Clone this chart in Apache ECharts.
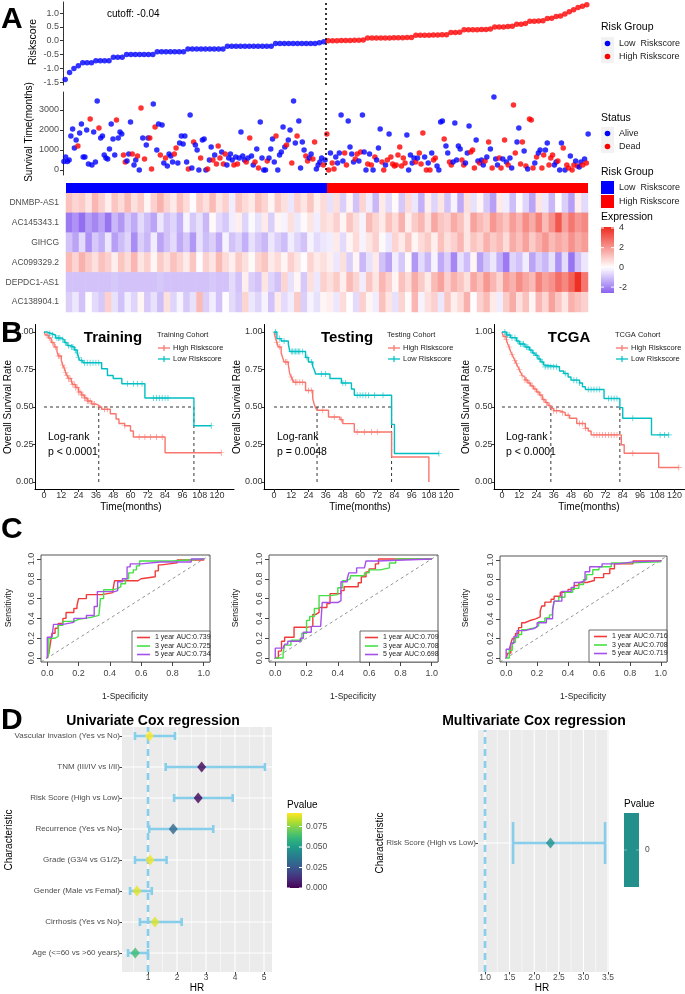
<!DOCTYPE html>
<html><head><meta charset="utf-8">
<script src="https://cdn.jsdelivr.net/npm/echarts@6.0.0/dist/echarts.min.js"></script>
<style>html,body{margin:0;padding:0;background:#fff}#c{width:685px;height:994px}</style>
</head><body><div id="c"></div>
<script>
// ---------------- DATA ----------------
const riskLow = [-1.40,-1.15,-1.00,-0.90,-0.80,-0.80,-0.80,-0.72,-0.72,-0.72,
  -0.72,-0.60,-0.60,-0.60,-0.50,-0.50,-0.50,-0.50,-0.50,-0.50,
  -0.50,-0.40,-0.40,-0.40,-0.40,-0.40,-0.40,-0.40,-0.30,-0.30,
  -0.30,-0.30,-0.30,-0.30,-0.30,-0.30,-0.30,-0.20,-0.20,-0.20,
  -0.20,-0.20,-0.20,-0.20,-0.20,-0.20,-0.20,-0.20,-0.10,-0.10,
  -0.10,-0.10,-0.10,-0.10,-0.10,-0.10,-0.10,-0.10,-0.07,-0.04];
const riskHigh = [0.00,0.00,0.00,0.01,0.01,0.01,0.02,0.02,0.03,0.10,
  0.10,0.10,0.10,0.10,0.10,0.11,0.11,0.11,0.12,0.12,
  0.20,0.20,0.20,0.20,0.21,0.21,0.22,0.22,0.30,0.30,
  0.31,0.40,0.40,0.40,0.40,0.41,0.41,0.42,0.50,0.50,
  0.50,0.51,0.52,0.60,0.60,0.62,0.70,0.70,0.71,0.72,
  0.80,0.81,0.88,0.89,0.97,1.05,1.12,1.20,1.25,1.30];
const cutoffText = 'cutoff: -0.04';

const survLow = [420,650,420,500,1700,2050,1100,1500,1200,1850,
  2300,650,650,2000,300,2550,250,1900,400,3450,
  2100,1600,1700,750,600,550,1050,2300,1550,750,
  2500,1600,1900,1800,750,400,450,800,2400,800,
  250,500,700,0,3100,1600,550,1250,1600,1600,
  50,3300,2150,1000,2300,750,2250,350,600,200,
  800,700,400,800,1100,350,1350,1700,1300,1700,
  400,50,2750,100,1400,1250,1000,0,600,1500,
  1550,0,50,500,1150,500,750,300,1200,600,
  900,300,800,250,600,800,500,250,650,300,
  600,1900,700,500,400,600,1600,700,250,400,
  1050,100,2400,600,0,0,450,600,1050,1550,
  400,1700,0,750,900,2150,1150,1250,1500,2000,
  350,3450,1350,1700,2450,100,1400,1000,700,450,
  600,800,550,1400,50,250,400,600,250,500];
const deadLow = [0,0,0,0,0,0,0,0,1,0,
  0,0,0,0,0,1,0,0,0,0,
  1,0,0,0,0,0,0,0,0,0,
  1,0,0,0,1,1,0,0,0,1,
  0,0,1,0,1,0,1,0,0,1,
  1,0,1,0,0,1,0,0,1,0,
  0,0,0,1,1,0,0,0,0,0,
  0,1,0,0,1,0,0,0,1,0,
  0,0,1,0,0,1,0,1,1,1,
  0,1,1,0,0,0,0,1,0,1,
  0,0,0,0,1,0,1,0,0,1,
  0,1,0,0,0,0,1,0,0,0,
  0,1,0,0,0,0,0,1,0,0,
  1,0,0,1,0,0,0,0,1,1,
  0,0,1,1,0,0,0,0,1,0];
const survHigh = [1800,0,850,350,50,650,350,850,2750,450,
  850,250,2450,1150,800,400,550,800,450,900,
  2750,900,0,300,800,250,0,650,500,1100,
  2050,400,0,250,500,1800,650,300,200,250,
  750,1150,200,600,350,1750,0,750,350,600,
  400,600,850,300,1850,650,0,350,0,850,
  500,600,200,0,2400,2450,1550,1200,850,400,
  250,400,2350,500,1200,1050,500,250,350,850,
  2200,900,1000,100,1500,450,350,500,250,450,
  650,1400,1050,100,3650,550,250,600,100,550,
  1500,400,250,600,100,3250,850,1400,2100,300,
  1400,950,200,50,2550,2500,100,350,650,850,
  1000,100,750,1000,1350,250,600,750,250,400,
  450,0,1350,1100,0,250,100,700,0,250,
  450,200,150,400,250,550,350,1800];
const deadHigh = [1,1,0,1,1,0,0,0,0,0,
  1,1,0,0,0,0,1,1,0,1,
  0,0,0,1,0,1,0,1,0,0,
  0,1,1,0,1,0,1,1,1,1,
  1,1,1,1,1,0,0,0,0,0,
  1,0,1,1,1,0,1,0,1,0,
  1,1,0,0,0,0,1,0,0,1,
  1,0,0,0,0,0,1,1,0,0,
  0,1,1,1,0,0,1,0,0,1,
  0,1,0,1,0,0,0,1,1,0,
  1,0,1,0,0,1,1,0,0,1,
  1,0,1,0,1,1,1,0,1,0,
  0,1,1,0,0,1,1,1,0,0,
  1,0,0,1,0,1,1,0,1,1,
  0,1,0,0,1,0,1,0];

const riskGroups = ['Low  Riskscore', 'High Riskscore'];
const statusNames = ['Alive', 'Dead'];

const genes = ['DNMBP-AS1','AC145343.1','GIHCG','AC099329.2','DEPDC1-AS1','AC138904.1'];
const exprLow = [
 [1.2,0.8,1.0,0.5,1.4,0.9,0.3,1.1,0.7,1.3, 0.6,1.0,0.2,0.9,1.5,0.8,0.4,1.2,0.7,0.0, 1.0,0.6,1.3,0.5,0.9,-0.3,1.1,0.7,0.4,1.2, 0.8,0.2,1.0,0.6,-0.4,0.9,0.5,1.1,0.3,0.7],
 [-2.2,-1.8,-2.4,-1.6,-2.0,-1.5,-2.3,-1.2,-1.7,-0.9, -1.4,-0.6,-1.1,-1.5,-0.4,-1.0,-0.7,-1.3,-0.2,-0.9, -0.5,-1.2,0.1,-0.6,-0.9,-0.3,0.3,-0.7,-0.1,-0.5, 0.4,-0.8,0.2,-0.2,0.6,-0.4,0.1,0.5,-0.3,0.7],
 [-1.0,-1.5,-0.6,-1.8,-0.9,-1.3,-0.4,-1.6,-1.1,-0.7, -1.9,-0.8,-1.2,-0.3,-1.5,-1.0,-0.6,-1.4,-0.9,-1.7, -0.5,-1.1,-0.8,-1.4,-0.2,-1.0,-0.7,-1.3,-0.5,-0.9, -1.2,-0.4,-0.8,-1.1,-0.3,-0.7,-1.0,-0.2,-0.6,-0.4],
 [1.3,0.8,1.5,1.0,0.6,1.2,0.9,0.3,1.1,0.7, 1.4,0.5,0.9,0.2,1.0,0.6,1.2,0.8,0.4,1.1, 0.0,0.9,0.5,1.3,0.7,0.3,1.0,0.6,0.1,0.8, 1.1,0.4,0.7,0.2,0.9,0.5,0.0,0.8,0.4,0.6],
 [-1.0,-1.0,-1.0,-1.0,-1.0,-1.0,-1.0,-0.9,-1.0,-1.0, -1.0,-1.0,-1.0,-1.0,-0.9,-1.0,-1.0,-1.0,-1.0,-1.0, -1.0,-1.0,-0.9,-1.0,-1.0,-0.6,-1.0,0.3,-0.8,-1.0, 0.5,-0.7,-1.0,0.8,-0.5,0.2,-0.9,0.6,-0.4,0.9],
 [-0.8,-0.4,-1.0,0.0,-0.6,-0.9,0.9,-0.5,-1.0,-0.3, -0.7,0.2,-0.9,-0.5,-1.1,0.6,-0.7,-0.2,-0.9,-0.5, 1.3,-0.8,-0.3,-1.0,0.0,-0.6,-0.9,0.8,-0.4,-0.7, -0.2,-1.0,0.4,-0.6,-0.3,1.0,-0.8,-0.2,-0.5,0.2]
];
const exprHigh = [
 [-0.5,0.6,-0.8,0.2,-1.0,0.8,-0.3,-1.2,0.4,-0.6, 0.1,-0.9,0.7,-0.4,-1.3,0.3,-0.7,0.5,-1.0,-0.2, -1.4,0.6,-0.5,0.2,-0.9,-1.6,0.4,-0.3,-1.1,0.1, -0.7,-1.5,0.5,-0.4,-1.2,0.0,-0.8,-1.6,0.3,-0.6],
 [0.5,0.9,0.2,1.1,0.6,-0.2,1.3,0.8,0.4,1.2, 0.7,1.5,0.3,1.0,1.4,0.6,1.7,1.1,0.9,1.6, 1.2,0.5,1.8,1.3,1.0,2.0,1.5,1.1,1.9,1.4, 2.2,1.6,2.4,1.3,2.1,3.2,1.8,2.6,2.0,2.3],
 [-0.3,0.4,-0.6,0.2,0.7,-0.2,0.5,0.9,0.1,-0.4, 0.8,0.4,1.1,0.2,0.7,1.0,0.3,1.2,0.6,0.9, 1.4,0.5,1.1,0.8,1.5,1.0,1.3,0.7,1.6,1.2, 1.8,1.0,1.5,2.0,1.3,1.7,1.4,2.1,1.6,1.9],
 [0.3,-0.4,0.6,-0.8,0.2,-1.2,-0.5,0.4,-1.0,-1.5, -0.3,-0.9,0.1,-1.7,-0.6,-1.2,-0.2,-1.4,-0.8,-2.0, -0.5,-1.1,0.2,-1.6,-0.9,-0.4,-1.3,-2.2,-0.7,-1.0, -0.3,-1.5,-0.8,-1.2,-0.5,-1.8,-0.6,-2.3,-1.0,-0.4],
 [0.6,1.0,0.3,1.3,0.8,-0.3,1.1,0.5,1.4,0.9, 0.2,1.2,0.7,1.6,1.0,0.4,1.3,1.8,0.9,1.5, 1.1,0.6,1.7,1.2,2.0,1.4,0.8,1.9,1.5,2.2, 1.7,1.3,2.4,1.8,2.1,2.8,2.3,3.0,4.0,2.6],
 [0.3,-0.4,0.7,0.0,-0.6,0.9,0.2,-0.3,1.2,0.5, -0.5,0.8,0.1,1.4,-0.2,0.6,0.9,-0.4,1.1,0.3, 0.7,1.5,0.0,0.9,1.3,0.4,-0.3,1.0,1.6,0.6, 1.2,0.2,1.4,0.8,1.8,1.1,0.5,1.5,1.2,0.9]
];
const exprTicks = [4, 2, 0, -2];

// Kaplan-Meier: [time, survival] at each drop
const kmTrainHigh = [[0,1],[1,0.98],[3,0.96],[5,0.93],[7,0.9],[9,0.87],[10,0.84],[12,0.81],[13,0.78],[14,0.76],[15,0.73],[16,0.71],[17,0.69],[19,0.67],[20,0.65],[22,0.63],[24,0.6],[26,0.58],[28,0.56],[30,0.54],[33,0.52],[36,0.51],[38,0.5],[40,0.485],[46,0.455],[50,0.42],[52,0.39],[56,0.375],[60,0.34],[62,0.3],[84,0.195],[123,0.195]];
const kmTrainLow = [[0,1],[2,0.99],[5,0.98],[8,0.96],[12,0.95],[14,0.93],[16,0.91],[18,0.9],[21,0.88],[23,0.86],[24,0.83],[25,0.81],[27,0.795],[40,0.755],[44,0.71],[48,0.69],[54,0.655],[70,0.56],[104,0.375],[116,0.375]];
const kmTrainHighCens = [2,4,6,8,10,11,13,14,15,16,17,18,19,20,21,22,23,24,25,26,27,28,29,30,31,32,34,35,38,42,44,56,66,70,74,78,82,123];
const kmTrainLowCens = [4,6,9,10,11,13,15,17,19,20,22,23,24,26,28,30,32,34,36,38,58,62,65,68,76,78,80,82,84,86,116];
const kmTrainMedian = [38,104];

const kmTestHigh = [[0,1],[1,0.96],[2,0.93],[3,0.9],[5,0.86],[6,0.83],[7,0.8],[10,0.78],[11,0.72],[12,0.7],[13,0.68],[14,0.665],[22,0.61],[27,0.556],[28,0.52],[29,0.495],[30,0.478],[38,0.433],[46,0.415],[48,0.389],[56,0.333],[82,0.167],[108,0.167],[108,0]];
const kmTestLow = [[0,1],[2,0.956],[5,0.94],[10,0.92],[11,0.87],[22,0.83],[24,0.8],[27,0.77],[28,0.75],[29,0.72],[39,0.69],[47,0.66],[54,0.62],[56,0.578],[82,0.384],[84,0.19],[115,0.19]];
const kmTestHighCens = [2,4,8,9,12,13,15,16,18,20,24,26,34,42,47,58,63,68,72];
const kmTestLowCens = [1,4,7,12,13,14,15,16,17,18,20,23,26,33,36,48,50,58,60,62,64,66,70,76,115];
const kmTestMedian = [30,82];

const kmTcgaHigh = [[0,1],[1,0.97],[3,0.95],[4,0.92],[5,0.9],[6,0.87],[7,0.85],[8,0.83],[9,0.81],[10,0.79],[11,0.77],[12,0.75],[13,0.73],[14,0.71],[15,0.7],[16,0.68],[18,0.66],[20,0.64],[22,0.62],[24,0.6],[26,0.58],[28,0.55],[30,0.53],[32,0.51],[34,0.49],[36,0.475],[40,0.462],[44,0.445],[47,0.425],[52,0.39],[58,0.358],[60,0.34],[62,0.314],[83,0.248],[85,0.192],[109,0.097],[123,0.097]];
const kmTcgaLow = [[0,1],[3,0.98],[6,0.962],[10,0.94],[12,0.92],[16,0.9],[19,0.88],[21,0.86],[23,0.845],[25,0.82],[27,0.8],[29,0.78],[30,0.768],[40,0.74],[43,0.723],[46,0.7],[48,0.679],[54,0.66],[56,0.635],[58,0.617],[71,0.557],[82,0.496],[84,0.425],[104,0.314],[116,0.314]];
const kmTcgaHighCens = [2,3,5,7,9,10,12,14,16,17,19,21,23,25,27,29,31,33,36,38,42,46,54,56,58,64,66,68,70,72,74,76,78,80,91,123];
const kmTcgaLowCens = [2,4,5,7,9,11,13,14,15,17,18,20,22,24,26,28,30,32,34,36,38,44,50,52,54,60,62,64,66,68,74,76,78,80,91,110,113,116];
const kmTcgaMedian = [34,82];

const kmTitles = ['Training','Testing','TCGA'];
const kmLegendTitles = ['Training Cohort','Testing Cohort','TCGA Cohort'];
const kmPText = ['p < 0.0001','p = 0.0048','p < 0.0001'];
const kmTimeTicks = [0,12,24,36,48,60,72,84,96,108,120];
const kmSurvTicks = [0,0.25,0.5,0.75,1];

// ROC curves: [1-specificity, sensitivity]
const rocTrain1 = [[0,0],[0.01,0.05],[0.02,0.15],[0.03,0.25],[0.05,0.3],[0.07,0.35],[0.1,0.4],[0.12,0.46],[0.17,0.5],[0.19,0.53],[0.2,0.6],[0.25,0.64],[0.35,0.66],[0.42,0.69],[0.43,0.78],[0.58,0.8],[0.6,0.82],[0.69,0.88],[0.71,0.94],[0.73,0.96],[0.83,0.99],[1,1]];
const rocTrain3 = [[0,0],[0.01,0.05],[0.01,0.2],[0.05,0.22],[0.07,0.33],[0.1,0.37],[0.17,0.39],[0.2,0.41],[0.28,0.43],[0.33,0.45],[0.34,0.6],[0.36,0.69],[0.42,0.7],[0.45,0.72],[0.47,0.75],[0.5,0.8],[0.52,0.86],[0.55,0.89],[0.57,0.93],[0.59,0.98],[0.8,1],[1,1]];
const rocTrain5 = [[0,0],[0,0.21],[0.03,0.21],[0.04,0.34],[0.1,0.36],[0.17,0.4],[0.25,0.43],[0.3,0.52],[0.32,0.67],[0.43,0.68],[0.45,0.77],[0.48,0.8],[0.51,0.92],[0.53,0.95],[0.6,0.97],[0.72,0.97],[0.92,1],[1,1]];
const rocTest1 = [[0,0],[0.02,0.07],[0.04,0.17],[0.06,0.21],[0.12,0.31],[0.2,0.32],[0.24,0.44],[0.26,0.46],[0.28,0.51],[0.33,0.55],[0.35,0.65],[0.42,0.68],[0.44,0.72],[0.53,0.76],[0.55,0.82],[0.58,0.87],[0.6,0.9],[0.64,0.95],[0.66,1],[1,1]];
const rocTest3 = [[0,0],[0.05,0.05],[0.06,0.13],[0.1,0.18],[0.17,0.25],[0.2,0.38],[0.22,0.42],[0.25,0.5],[0.28,0.63],[0.35,0.64],[0.4,0.71],[0.43,0.78],[0.45,0.8],[0.48,0.83],[0.57,0.86],[0.6,0.89],[0.67,0.91],[0.73,0.96],[0.77,1],[1,1]];
const rocTest5 = [[0,0],[0,0.1],[0.05,0.1],[0.06,0.14],[0.08,0.17],[0.16,0.2],[0.18,0.26],[0.23,0.32],[0.29,0.32],[0.3,0.56],[0.4,0.58],[0.42,0.77],[0.46,0.8],[0.47,0.86],[0.52,0.91],[0.57,0.93],[0.58,0.98],[0.65,1],[1,1]];
const rocTcga1 = [[0,0],[0.01,0.05],[0.03,0.15],[0.04,0.2],[0.06,0.25],[0.08,0.31],[0.1,0.36],[0.12,0.38],[0.15,0.4],[0.19,0.42],[0.22,0.48],[0.23,0.53],[0.25,0.57],[0.29,0.6],[0.31,0.63],[0.35,0.67],[0.4,0.7],[0.44,0.74],[0.47,0.77],[0.52,0.79],[0.57,0.82],[0.63,0.86],[0.67,0.91],[0.7,0.96],[0.82,0.99],[1,1]];
const rocTcga3 = [[0,0],[0.02,0.08],[0.04,0.16],[0.06,0.21],[0.08,0.24],[0.1,0.29],[0.13,0.31],[0.19,0.33],[0.21,0.37],[0.25,0.41],[0.28,0.44],[0.3,0.5],[0.31,0.58],[0.34,0.62],[0.38,0.67],[0.43,0.71],[0.47,0.75],[0.5,0.8],[0.52,0.85],[0.56,0.9],[0.6,0.93],[0.68,0.97],[0.8,0.98],[1,1]];
const rocTcga5 = [[0,0],[0,0.09],[0.02,0.09],[0.03,0.15],[0.05,0.22],[0.07,0.28],[0.12,0.3],[0.18,0.32],[0.2,0.36],[0.26,0.4],[0.3,0.48],[0.31,0.58],[0.36,0.68],[0.42,0.72],[0.44,0.77],[0.48,0.79],[0.51,0.88],[0.54,0.93],[0.62,0.96],[0.72,0.98],[0.82,0.99],[1,1]];
const rocYears = ['1 year','3 year','5 year'];
const rocAucTrain = ['0.739','0.725','0.734'];
const rocAucTest = ['0.709','0.708','0.698'];
const rocAucTcga = ['0.716','0.708','0.719'];
const rocTicks = [0,0.2,0.4,0.6,0.8,1];

// Forest plots (bottom row first)
const uniLabels = ['Age (<=60 vs >60 years)','Cirrhosis (Yes vs No)','Gender (Male vs Femal)','Grade (G3/4 vs G1/2)','Recurrence (Yes vs No)','Risk Score (High vs Low)','TNM (III/IV vs I/II)','Vascular invasion (Yes vs No)'];
const uniHR   = [0.56,1.24,0.62,1.07,1.87,2.73,2.85,1.05];
const uniLow  = [0.31,0.72,0.38,0.55,1.04,1.90,1.61,0.55];
const uniHigh = [1.00,2.16,1.13,1.64,3.25,3.92,5.03,1.93];
const uniP    = [0.063,0.087,0.088,0.090,0.030,0.0005,0.0008,0.0915];
const uniPTicks = [0, 0.025, 0.05, 0.075];
const uniHRTicks = [1,2,3,4,5];
const multiLabels = ['Risk Score (High vs Low)'];
const multiHR = [2.33], multiLow = [1.57], multiHigh = [3.44], multiP = [0];
const multiHRTicks = [1,1.5,2,2.5,3,3.5];

// ---------------- HELPERS ----------------
const FONT = '"Liberation Sans", Arial, Helvetica, sans-serif';
function hex2rgb(h){h=h.replace('#','');return [parseInt(h.substr(0,2),16),parseInt(h.substr(2,2),16),parseInt(h.substr(4,2),16)];}
function mix(a,b,f){const A=hex2rgb(a),B=hex2rgb(b);return 'rgb('+A.map((v,i)=>Math.round(v+(B[i]-v)*f)).join(',')+')';}
const VIR = ['#440154','#482878','#3E4A89','#31688E','#26828E','#1F9E89','#35B779','#6DCD59','#B4DE2C','#FDE725'];
function viridis(t){t=Math.max(0,Math.min(1,t));const n=VIR.length-1;const i=Math.min(n-1,Math.floor(t*n));return mix(VIR[i],VIR[i+1],t*n-i);}
const EXP_MIN=-2.6, EXP_MAX=4.1;
function exprColor(v){ if(v<0) return mix('#FFFFFF','#8A62F0',Math.min(1,-v/2.6)); return mix('#FFFFFF','#EE2A1E',Math.min(1,v/4.1)); }
function txt(x,y,text,size,o){o=o||{};return {type:'text',x:x,y:y,rotation:o.rot||0,z:100,silent:true,
  style:{text:text,font:(o.bold?'bold ':'')+size+'px '+FONT,fill:o.color||'#000',
  textAlign:o.align||'left',align:o.align||'left',textVerticalAlign:'middle',verticalAlign:'middle'}};}
function ln(x1,y1,x2,y2,c,w,dash){return {type:'line',z:100,silent:true,shape:{x1,y1,x2,y2},style:{stroke:c,lineWidth:w||1,lineDash:dash||null}};}
function rect(x,y,w,h,fill,stroke){return {type:'rect',z:99,silent:true,shape:{x,y,width:w,height:h},style:{fill:fill,stroke:stroke||null,lineWidth:stroke?0.8:0}};}
function stepAt(curve,t){let s=curve[0][1];for(const p of curve){if(p[0]<=t)s=p[1];else break;}return s;}

const grids=[], xAxes=[], yAxes=[], series=[], G=[];
function fixLine(a){a.axisLine=Object.assign({},a.axisLine||{},{onZero:false});return a;}
function addGrid(g,x,y){grids.push(g);x.gridIndex=grids.length-1;y.gridIndex=grids.length-1;xAxes.push(fixLine(x));yAxes.push(fixLine(y));return grids.length-1;}

// ---------------- PANEL A ----------------
const axisA = (vals, fmt) => ({type:'value', axisLine:{show:true,lineStyle:{color:'#333',width:1}}, axisTick:{show:true,length:3,lineStyle:{color:'#333'},customValues:vals},
  axisLabel:{customValues:vals,formatter:fmt,color:'#4D4D4D',fontSize:9,margin:4,fontFamily:FONT}, splitLine:{show:false}});
const gRisk = addGrid({left:63,top:2,width:526,height:83},
  {type:'value',min:0,max:2,show:false},
  Object.assign(axisA([-1.5,-1,-0.5,0,0.5,1],v=>v.toFixed(1)),{min:-1.6,max:1.4}));
const cutLine = {silent:true,symbol:'none',label:{show:false},lineStyle:{type:[2,3],color:'#000',width:1.6},data:[{xAxis:1}]};
series.push({type:'scatter',xAxisIndex:gRisk,yAxisIndex:gRisk,symbolSize:5.5,itemStyle:{color:'#0000FF'},
  data:riskLow.map((v,i)=>[(i+0.5)/riskLow.length,v]),markLine:cutLine});
series.push({type:'scatter',xAxisIndex:gRisk,yAxisIndex:gRisk,symbolSize:5.5,itemStyle:{color:'#FF0000'},
  data:riskHigh.map((v,i)=>[1+(i+0.5)/riskHigh.length,v])});

const gSurv = addGrid({left:63,top:92,width:526,height:83},
  {type:'value',min:0,max:2,show:false},
  Object.assign(axisA([0,1000,2000,3000],v=>String(v)),{min:-250,max:3900}));
const survPts=[];
survLow.forEach((v,i)=>survPts.push({value:[(i+0.5)/survLow.length,v],itemStyle:{color:deadLow[i]?'#FF0000':'#0000FF'}}));
survHigh.forEach((v,i)=>survPts.push({value:[1+(i+0.5)/survHigh.length,v],itemStyle:{color:deadHigh[i]?'#FF0000':'#0000FF'}}));
series.push({type:'scatter',xAxisIndex:gSurv,yAxisIndex:gSurv,symbolSize:5.5,data:survPts,markLine:cutLine});

const gAnn = addGrid({left:66,top:183,width:522,height:10},
  {type:'value',min:0,max:2,show:false},{type:'category',data:['g'],show:false});
series.push({type:'bar',xAxisIndex:gAnn,yAxisIndex:gAnn,stack:'grp',barWidth:'100%',itemStyle:{color:'#0000FF'},data:[1],silent:true});
series.push({type:'bar',xAxisIndex:gAnn,yAxisIndex:gAnn,stack:'grp',barWidth:'100%',itemStyle:{color:'#FF0000'},data:[1],silent:true});

const nLowCols = Math.max(...exprLow.map(r=>r.length));
const nCols = nLowCols + Math.max(...exprHigh.map(r=>r.length));
const gHeat = addGrid({left:66,top:193,width:522,height:119},
  {type:'category',data:Array.from({length:nCols},(_,i)=>i),show:false},
  {type:'category',data:genes,inverse:true,axisLine:{show:false},axisTick:{show:false},
   axisLabel:{color:'#4D4D4D',fontSize:8.5,margin:7,fontFamily:FONT}});
const heatData=[];
genes.forEach((g,gi)=>{exprLow[gi].forEach((v,c)=>heatData.push([c,gi,v]));exprHigh[gi].forEach((v,c)=>heatData.push([nLowCols+c,gi,v]));});
const heatIdx = series.length;
series.push({type:'heatmap',xAxisIndex:gHeat,yAxisIndex:gHeat,data:heatData,itemStyle:{borderWidth:0},silent:true});
const vmColors=[];for(let k=0;k<=60;k++)vmColors.push(exprColor(EXP_MIN+(EXP_MAX-EXP_MIN)*k/60));

// ---------------- PANEL B (KM) ----------------
const kmSets = [
 {high:kmTrainHigh,low:kmTrainLow,hc:kmTrainHighCens,lc:kmTrainLowCens,med:kmTrainMedian,L:35,min:-6.24,max:131.8,w:199,tx:113,lx:157,lrx:48,ylab:8,xlab:131},
 {high:kmTestHigh,low:kmTestLow,hc:kmTestHighCens,lc:kmTestLowCens,med:kmTestMedian,L:264,min:-6.98,max:129,w:195,tx:347,lx:387,lrx:277,ylab:237,xlab:360},
 {high:kmTcgaHigh,low:kmTcgaLow,hc:kmTcgaHighCens,lc:kmTcgaLowCens,med:kmTcgaMedian,L:494,min:-5.55,max:127,w:191,tx:569,lx:615,lrx:506,ylab:466,xlab:589}];
const PLUS = 'path://M4.4,0h1.2v10h-1.2z M0,4.4h10v1.2h-10z';
const HIGHC='#F8766D', LOWC='#00BFC4';
kmSets.forEach((k,i)=>{
  const g = addGrid({left:k.L,top:324.5,width:k.w,height:165},
    {type:'value',min:k.min,max:k.max,axisLine:{show:true,lineStyle:{color:'#000',width:1}},splitLine:{show:false},
      axisTick:{show:true,length:2.5,lineStyle:{color:'#333'},customValues:kmTimeTicks},
      axisLabel:{customValues:kmTimeTicks,color:'#333',fontSize:9,margin:1.5,fontFamily:FONT}},
    {type:'value',min:-0.05,max:1.05,axisLine:{show:true,lineStyle:{color:'#000',width:1}},splitLine:{show:false},
      axisTick:{show:true,length:2.5,lineStyle:{color:'#333'},customValues:kmSurvTicks},
      axisLabel:{customValues:kmSurvTicks,formatter:v=>v.toFixed(2),color:'#333',fontSize:9,margin:1.5,fontFamily:FONT}});
  const dash = {color:'#222',width:0.9,type:[3,3]};
  series.push({type:'line',xAxisIndex:g,yAxisIndex:g,showSymbol:false,silent:true,lineStyle:dash,data:[[0,0.5],[k.med[1],0.5]]});
  k.med.forEach(m=>series.push({type:'line',xAxisIndex:g,yAxisIndex:g,showSymbol:false,silent:true,lineStyle:dash,data:[[m,0],[m,0.5]]}));
  [[k.high,k.hc,HIGHC],[k.low,k.lc,LOWC]].forEach(([curve,cens,col])=>{
    series.push({type:'line',xAxisIndex:g,yAxisIndex:g,step:'end',showSymbol:false,silent:true,lineStyle:{color:col,width:1.4},data:curve,z:3});
    series.push({type:'scatter',xAxisIndex:g,yAxisIndex:g,symbol:PLUS,symbolSize:6,silent:true,itemStyle:{color:col},data:cens.map(t=>[t,stepAt(curve,t)]),z:4});
  });
  G.push(txt(k.tx,338,kmTitles[i],15,{bold:true,align:'center'}));
  G.push(txt(k.lx,335,kmLegendTitles[i],7.5,{color:'#222'}));
  [[348,HIGHC,'High Riskscore'],[359,LOWC,'Low Riskscore']].forEach(([yy,c,t])=>{
    G.push(ln(k.lx+1,yy,k.lx+13,yy,c,1.3));G.push(ln(k.lx+7,yy-3,k.lx+7,yy+3,c,1.2));
    G.push(txt(k.lx+16,yy,t,7.5,{color:'#222'}));
  });
  G.push(txt(k.lrx,437,'Log-rank',10.5));
  G.push(txt(k.lrx,452,kmPText[i],10.5));
  G.push(txt(k.ylab,407,'Overall Survival Rate',10,{rot:Math.PI/2,align:'center'}));
  G.push(txt(k.xlab,507,'Time(months)',10,{align:'center'}));
});

// ---------------- PANEL C (ROC) ----------------
const rocSets = [
 {curves:[rocTrain1,rocTrain3,rocTrain5],auc:rocAucTrain,L:41,T:555,W:169,H:107,box:[132,631],sx:9,xl:125},
 {curves:[rocTest1,rocTest3,rocTest5],auc:rocAucTest,L:269,T:555,W:169,H:107,box:[360,631],sx:236,xl:353},
 {curves:[rocTcga1,rocTcga3,rocTcga5],auc:rocAucTcga,L:500,T:556,W:167,H:106,box:[589,630],sx:466,xl:583}];
const ROCC = ['#F03A3A','#45E045','#A64FEA'];
rocSets.forEach(r=>{
  const tick = {show:true,length:4,lineStyle:{color:'#444'},customValues:rocTicks};
  const g = addGrid({left:r.L,top:r.T,width:r.W,height:r.H,show:true,borderColor:'#555',borderWidth:1,backgroundColor:'transparent'},
    {type:'value',min:-0.04,max:1.04,axisLine:{show:false},axisTick:tick,splitLine:{show:false},
      axisLabel:{customValues:rocTicks,formatter:v=>v.toFixed(1),color:'#444',fontSize:9,margin:7,fontFamily:FONT}},
    {type:'value',min:-0.04,max:1.04,axisLine:{show:false},axisTick:tick,splitLine:{show:false},
      axisLabel:{customValues:rocTicks,formatter:v=>v.toFixed(1),color:'#444',fontSize:9,margin:5,rotate:90,fontFamily:FONT}});
  series.push({type:'line',xAxisIndex:g,yAxisIndex:g,showSymbol:false,silent:true,lineStyle:{color:'#777',width:0.8,type:[3,3]},data:[[-0.04,-0.04],[1.04,1.04]]});
  r.curves.forEach((c,ci)=>series.push({type:'line',xAxisIndex:g,yAxisIndex:g,step:'end',showSymbol:false,silent:true,lineStyle:{color:ROCC[ci],width:1.4},data:c}));
  const bx=r.box[0], by=r.box[1];
  G.push(rect(bx,by,r.L+r.W-bx,r.T+r.H-by,'#fff','#444'));
  [0,1,2].forEach(j=>{const yy=by+6.5+j*8.5;G.push(ln(bx+5,yy,bx+18,yy,ROCC[j],1.6));
    G.push(txt(bx+23,yy,rocYears[j]+' AUC:'+r.auc[j],7,{color:'#222'}));});
  G.push(txt(r.sx,608,'Sensitivity',8.5,{rot:Math.PI/2,align:'center',color:'#222'}));
  G.push(txt(r.xl,697,'1-Specificity',8.5,{align:'center',color:'#222'}));
});

// ---------------- PANEL D (forest) ----------------
function vGridRender(params,api){const cs=params.coordSys;const x=api.coord([api.value(0),api.value(1)])[0];
  return {type:'line',shape:{x1:x,y1:cs.y,x2:x,y2:cs.y+cs.height},style:{stroke:'#fff',lineWidth:api.value(2)}};}
function hGridRender(params,api){const cs=params.coordSys;const y=api.coord([api.value(0),api.value(1)])[1];
  return {type:'line',shape:{x1:cs.x,y1:y,x2:cs.x+cs.width,y2:y},style:{stroke:'#fff',lineWidth:api.value(2)}};}
function errRender(cap){return function(params,api){const a=api.coord([api.value(0),api.value(2)]),b=api.coord([api.value(1),api.value(2)]);
  const st={stroke:'#87CEEB',lineWidth:2.6};return {type:'group',children:[
  {type:'line',shape:{x1:a[0],y1:a[1],x2:b[0],y2:b[1]},style:st},
  {type:'line',shape:{x1:a[0],y1:a[1]-cap,x2:a[0],y2:a[1]+cap},style:st},
  {type:'line',shape:{x1:b[0],y1:b[1]-cap,x2:b[0],y2:b[1]+cap},style:st}]};};}
function forest(cfg){
  const g = addGrid({left:cfg.L,top:cfg.T,width:cfg.W,height:cfg.H,show:true,backgroundColor:'#EBEBEB',borderWidth:0},
    {type:'value',min:cfg.xmin,max:cfg.xmax,axisLine:{show:false},splitLine:{show:false},
     axisTick:{show:true,length:2.5,lineStyle:{color:'#444'},customValues:cfg.xticks},
     axisLabel:{customValues:cfg.xticks,formatter:cfg.xfmt,color:'#4D4D4D',fontSize:8.5,margin:1.5,fontFamily:FONT}},
    {type:'value',min:cfg.ymin,max:cfg.ymax,axisLine:{show:false},splitLine:{show:false},
     axisTick:{show:true,length:2.5,lineStyle:{color:'#444'},customValues:cfg.rows},
     axisLabel:{customValues:cfg.rows,formatter:v=>cfg.labels[Math.round(v)-1],color:'#4D4D4D',fontSize:8,margin:2,fontFamily:FONT}});
  const ymid = (cfg.ymin+cfg.ymax)/2, xmid=(cfg.xmin+cfg.xmax)/2;
  series.push({type:'custom',xAxisIndex:g,yAxisIndex:g,silent:true,z:1,renderItem:vGridRender,encode:{x:0,y:1},
    data:cfg.xticks.map(v=>[v,ymid,1.1]).concat(cfg.xminor.map(v=>[v,ymid,0.55]))});
  series.push({type:'custom',xAxisIndex:g,yAxisIndex:g,silent:true,z:1,renderItem:hGridRender,encode:{x:0,y:1},
    data:cfg.rows.map(v=>[xmid,v,1.1])});
  series.push({type:'line',xAxisIndex:g,yAxisIndex:g,showSymbol:false,silent:true,z:2,lineStyle:{color:'#87CEEB',width:2.6,type:[7,5]},data:[[1,cfg.ymin],[1,cfg.ymax]]});
  series.push({type:'custom',xAxisIndex:g,yAxisIndex:g,silent:true,z:3,renderItem:errRender(cfg.cap),encode:{x:[0,1],y:2},
    data:cfg.hr.map((h,i)=>[cfg.lo[i],cfg.hi[i],cfg.rows[i]])});
  series.push({type:'scatter',xAxisIndex:g,yAxisIndex:g,silent:true,z:4,symbol:'diamond',symbolSize:cfg.sym,
    data:cfg.hr.map((h,i)=>({value:[h,cfg.rows[i]],itemStyle:{color:cfg.color(i)}}))});
}
const uniPMax = Math.max(...uniP);
forest({L:122,T:727,W:150,H:245,xmin:0.103,xmax:5.276,ymin:0.387,ymax:8.29,xticks:uniHRTicks,xminor:[0.5,1.5,2.5,3.5,4.5],
  xfmt:v=>String(v),rows:uniLabels.map((_,i)=>i+1),labels:uniLabels,hr:uniHR,lo:uniLow,hi:uniHigh,cap:4,sym:[9,11],
  color:i=>viridis(uniP[i]/uniPMax)});
forest({L:478,T:730,W:131,H:242,xmin:0.857,xmax:3.52,ymin:-0.29,ymax:2.13,xticks:multiHRTicks,xminor:[1.25,1.75,2.25,2.75,3.25],
  xfmt:v=>v.toFixed(1),rows:[1],labels:multiLabels,hr:multiHR,lo:multiLow,hi:multiHigh,cap:21,sym:[9,11],
  color:i=>'#21908C'});

// ---------------- TEXT / LEGENDS ----------------
G.push(txt(1,20,'A',30,{bold:true}));
G.push(txt(1,334,'B',30,{bold:true}));
G.push(txt(1,530,'C',30,{bold:true}));
G.push(txt(1,721,'D',30,{bold:true}));
G.push(txt(107,14,cutoffText,10));
G.push(txt(33,42,'Riskscore',10.5,{rot:Math.PI/2,align:'center'}));
G.push(txt(29,132,'Survival Time(months)',10,{rot:Math.PI/2,align:'center'}));
// risk group legend (points)
G.push(txt(601,27,'Risk Group',10.5));
G.push(rect(601,37,13,13,'#F2F2F2'));G.push(rect(601,50,13,13,'#F2F2F2'));
G.push({type:'circle',z:101,silent:true,shape:{cx:607.5,cy:43.5,r:2.8},style:{fill:'#0000FF'}});
G.push({type:'circle',z:101,silent:true,shape:{cx:607.5,cy:56.5,r:2.8},style:{fill:'#FF0000'}});
G.push(txt(619,43.5,riskGroups[0],9,{color:'#222'}));G.push(txt(619,56.5,riskGroups[1],9,{color:'#222'}));
// status legend
G.push(txt(601,118,'Status',10.5));
G.push(rect(601,127,13,13,'#F2F2F2'));G.push(rect(601,140,13,13,'#F2F2F2'));
G.push({type:'circle',z:101,silent:true,shape:{cx:607.5,cy:133.5,r:2.8},style:{fill:'#0000FF'}});
G.push({type:'circle',z:101,silent:true,shape:{cx:607.5,cy:146.5,r:2.8},style:{fill:'#FF0000'}});
G.push(txt(619,133.5,statusNames[0],9,{color:'#222'}));G.push(txt(619,146.5,statusNames[1],9,{color:'#222'}));
// risk group legend (blocks)
G.push(txt(601,172,'Risk Group',10.5));
G.push(rect(601,181,13,13,'#0000FF'));G.push(rect(601,195,13,13,'#FF0000'));
G.push(txt(619,187.5,riskGroups[0],9,{color:'#222'}));G.push(txt(619,201.5,riskGroups[1],9,{color:'#222'}));
// expression colour bar
G.push(txt(601,217,'Expression',10.5));
const expStops=[];for(let k=0;k<=20;k++){const v=EXP_MAX-(EXP_MAX-EXP_MIN)*k/20;expStops.push({offset:k/20,color:exprColor(v)});}
G.push({type:'rect',z:99,silent:true,shape:{x:601,y:227,width:13,height:66},style:{fill:{type:'linear',x:0,y:0,x2:0,y2:1,colorStops:expStops}}});
exprTicks.forEach(v=>{const yy=227+(EXP_MAX-v)/(EXP_MAX-EXP_MIN)*66;
  G.push(ln(601,yy,604,yy,'#fff',1));G.push(ln(611,yy,614,yy,'#fff',1));
  G.push(txt(619,yy,String(v),9,{color:'#333'}));});
// forest texts
G.push(txt(153,721,'Univariate Cox regression',14,{bold:true,align:'center'}));
G.push(txt(534,721,'Multivariate Cox regression',14,{bold:true,align:'center'}));
G.push(txt(9,840,'Characteristic',10,{rot:Math.PI/2,align:'center'}));
G.push(txt(380,843,'Characteristic',10,{rot:Math.PI/2,align:'center'}));
G.push(txt(197,988,'HR',10,{align:'center'}));
G.push(txt(542,988,'HR',10,{align:'center'}));
// univariate p colour bar
G.push(txt(287,805,'Pvalue',10));
const pStops=[];for(let k=0;k<=20;k++)pStops.push({offset:k/20,color:viridis(1-k/20)});
G.push({type:'rect',z:99,silent:true,shape:{x:287,y:813,width:15,height:75},style:{fill:{type:'linear',x:0,y:0,x2:0,y2:1,colorStops:pStops}}});
uniPTicks.forEach(v=>{const yy=888-v/uniPMax*75;G.push(ln(287,yy,290,yy,'#fff',1));G.push(ln(299,yy,302,yy,'#fff',1));
  G.push(txt(306,yy,v.toFixed(3),8.5,{color:'#4D4D4D'}));});
// multivariate p colour bar
G.push(txt(624,804,'Pvalue',10));
G.push(rect(624,813,15,74,viridis(0.5)));
G.push(ln(624,850,627,850,'#6fc0bc',1));G.push(ln(636,850,639,850,'#6fc0bc',1));
G.push(txt(645,850,String(multiP[0]),8.5,{color:'#4D4D4D'}));

// ---------------- CHART ----------------
const chart = echarts.init(document.getElementById('c'),null,{renderer:'canvas'});
chart.setOption({
  animation:false,
  textStyle:{fontFamily:FONT},
  grid:grids, xAxis:xAxes, yAxis:yAxes,
  visualMap:[{type:'continuous',show:false,seriesIndex:heatIdx,min:EXP_MIN,max:EXP_MAX,inRange:{color:vmColors}}],
  series:series,
  graphic:{elements:G}
});
</script></body></html>
